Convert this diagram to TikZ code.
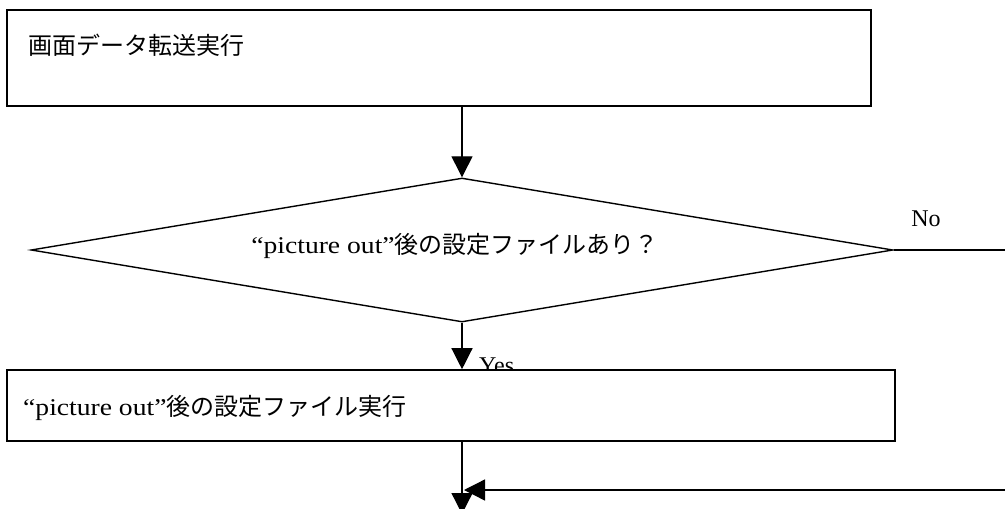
\documentclass[tikz,border=0pt]{standalone}
\usepackage{fontspec}
\setmainfont{Liberation Serif}
\newfontfamily\jp{Noto Sans CJK JP}
\newfontfamily\lat[FakeStretch=1.15]{Liberation Serif}
\usetikzlibrary{shapes.geometric,arrows.meta}
\begin{document}
\begin{tikzpicture}[x=1pt,y=-1pt,
  procbox/.style={draw,line width=1.6pt,fill=white,inner sep=0pt},
  decide/.style={draw,line width=1.4pt,diamond,aspect=5.99,inner sep=0pt,
     minimum width=862pt,minimum height=144pt},
  jptext/.style={inner sep=0pt,font=\fontsize{24}{28}\selectfont\jp},
  lbl/.style={inner sep=0pt,font=\fontsize{24}{28}\selectfont},
  flow/.style={line width=1.3pt,-{Triangle[length=21pt,width=21pt]}}]
\useasboundingbox (0,0) rectangle (1005,509);
\clip (0,0) rectangle (1005,509);
% process 1
\node[procbox,minimum width=864pt,minimum height=96pt] (b1) at (439,58) {};
\node[jptext,anchor=base west] (t1) at (28,54) {画面データ転送実行};
% decision
\node[decide] (d) at (462,250) {};
\node[jptext,anchor=base] (td) at (455,253) {{\lat “picture out”}後の設定ファイルあり？};
\node[lbl,anchor=base] (no) at (926,226) {No};
% yes label (partly covered by the box)
\node[lbl,anchor=base west] (yes) at (479,373) {Yes};
% process 2
\node[procbox,minimum width=888pt,minimum height=71pt] (b2) at (451,405.5) {};
\node[jptext,anchor=base west] (t2) at (23,415) {{\lat “picture out”}後の設定ファイル実行};
% connectors
\coordinate (nr) at (1015,250);
\coordinate (nd) at (1015,490);
\coordinate (m) at (464,490);
\coordinate (end) at (462,514);
\draw[flow] (d.north |- b1.south) -- (d.north);
\draw[flow] (d.south) -- (d.south |- b2.north);
\draw[flow] (end |- b2.south) -- (end);
\draw[flow] (d.east) -- (nr) -- (nd) -- (m);
\end{tikzpicture}
\end{document}
